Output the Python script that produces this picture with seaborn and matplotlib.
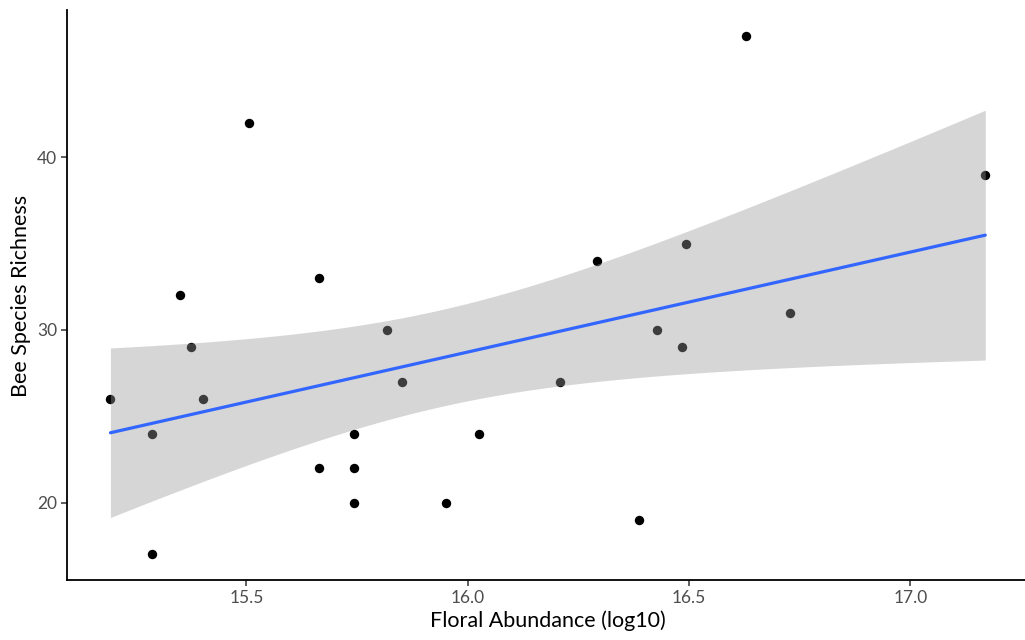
import numpy as np
import pandas as pd
import matplotlib
matplotlib.use("Agg")
import matplotlib.pyplot as plt
import seaborn as sns

floral_abundance = [15.193, 15.288, 15.288, 15.349, 15.376, 15.403, 15.507, 15.663, 15.663,
                    15.744, 15.744, 15.744, 15.818, 15.852, 15.952, 16.026, 16.209, 16.293,
                    16.388, 16.428, 16.485, 16.494, 16.629, 16.729, 17.169]
bee_richness = [26, 17, 24, 32, 29, 26, 42, 33, 22,
                24, 22, 20, 30, 27, 20, 24, 27, 34,
                19, 30, 29, 35, 47, 31, 39]
x_ticks = [15.5, 16.0, 16.5, 17.0]
y_ticks = [20, 30, 40]

df = pd.DataFrame({"x": floral_abundance, "y": bee_richness})

sns.set_theme(style="ticks")
plt.rcParams['font.family'] = ['Lato', 'DejaVu Sans']

W, H = 1025, 640
fig = plt.figure(figsize=(W/100, H/100), dpi=100)
left, right, top, bottom = 66.7, 1029, 10.5, 580.4
ax = fig.add_axes([left/W, 1 - bottom/H, (right-left)/W, (bottom-top)/H])

sns.scatterplot(data=df, x="x", y="y", color="black", s=46, linewidth=0, ax=ax, zorder=2)

# analytic 95% CI of linear fit (like ggplot geom_smooth(method="lm"))
x = np.asarray(floral_abundance, float)
y = np.asarray(bee_richness, float)
n = len(x)
b1, b0 = np.polyfit(x, y, 1)
resid = y - (b0 + b1 * x)
s = np.sqrt(np.sum(resid**2) / (n - 2))
xg = np.linspace(x.min(), x.max(), 80)
se = s * np.sqrt(1/n + (xg - x.mean())**2 / np.sum((x - x.mean())**2))
tval = 2.0687  # t(0.975, df=23)
yg = b0 + b1 * xg
ax.fill_between(xg, yg - tval*se, yg + tval*se, color="#999999", alpha=0.4, linewidth=0, zorder=3)

sns.regplot(data=df, x="x", y="y", scatter=False, ci=None, color="#3366FF",
            line_kws={"linewidth": 2.3, "zorder": 4}, ax=ax)

xr = x.max() - x.min()
yr = y.max() - y.min()
ax.set_xlim(x.min() - 0.05*xr, x.max() + 0.05*xr)
ax.set_ylim(y.min() - 0.05*yr, y.max() + 0.05*yr)
ax.set_xticks(x_ticks)
ax.set_xticklabels([f"{t:.1f}" for t in x_ticks])
ax.set_yticks(y_ticks)
ax.set_yticklabels([str(t) for t in y_ticks])

for sp in ["top", "right"]:
    ax.spines[sp].set_visible(False)
for sp in ["left", "bottom"]:
    ax.spines[sp].set_linewidth(1.3)
    ax.spines[sp].set_color("black")
ax.tick_params(axis="both", length=4, width=1.1, color="#333333", labelsize=12.5,
               labelcolor="#4D4D4D", pad=3)
ax.set_xlabel("Floral Abundance (log10)", fontsize=15.5, color="black", labelpad=3)
ax.set_ylabel("Bee Species Richness", fontsize=15.5, color="black", labelpad=4)

fig.savefig("out.png", dpi=100)
